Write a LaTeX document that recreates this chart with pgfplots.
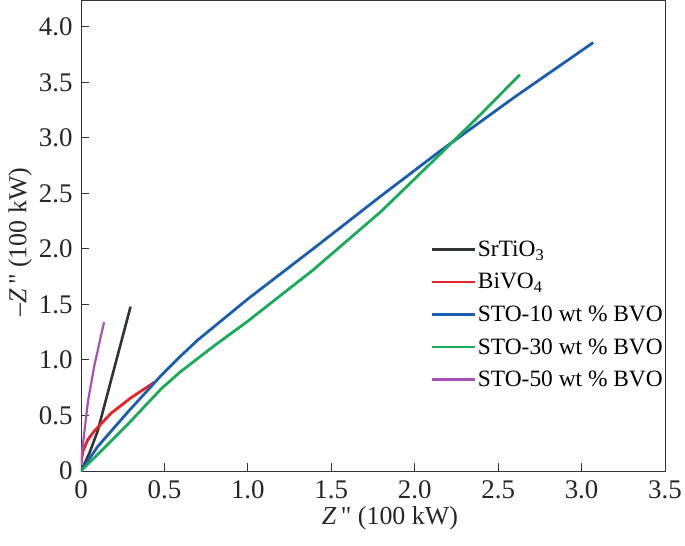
\documentclass[border=0pt]{standalone}
\usepackage{fontspec}
\setmainfont{Liberation Serif}
\newfontfamily\qfont{Liberation Serif}[Ligatures=TeXOff]
\usepackage{pgfplots}
\pgfplotsset{compat=1.18}
\definecolor{cblack}{HTML}{2E3532}
\definecolor{cred}{HTML}{E8212B}
\definecolor{cblue}{HTML}{1D5DAF}
\definecolor{cgreen}{HTML}{1BAA57}
\definecolor{cpurple}{HTML}{A552B5}
\newcommand{\dq}{{\qfont\symbol{34}}}
\begin{document}
\begin{tikzpicture}
\useasboundingbox (-81bp,-75bp) rectangle (604bp,471bp);
\begin{axis}[
  at={(0,0)}, anchor=south west,
  scale only axis, width=584bp, height=470bp,
  xmin=0, xmax=3.5, ymin=0, ymax=4.234,
  xtick={0,0.5,1,1.5,2,2.5,3,3.5},
  xticklabels={0,0.5,1.0,1.5,2.0,2.5,3.0,3.5},
  ytick={0,0.5,1,1.5,2,2.5,3,3.5,4},
  yticklabels={0,0.5,1.0,1.5,2.0,2.5,3.0,3.5,4.0},
  xtick pos=left, ytick pos=left, tick align=inside,
  major tick length=8bp,
  tick style={line width=1pt, black!80},
  axis line style={line width=1pt, black!80},
  ticklabel style={font=\fontsize{27}{30}\selectfont, text=black!85},
  xticklabel style={yshift=-6bp},
  yticklabel style={xshift=-5bp},
  label style={font=\fontsize{26}{29}\selectfont, text=black!85},
  xlabel={\textit{Z}\,\dq\ (100 kW)},
  ylabel={\textendash\textit{Z}\,\dq\ (100 kW)},
  xlabel style={at={(axis description cs:0.529,-0.100)}, anchor=center},
  ylabel style={at={(axis description cs:-0.104,0.487)}, anchor=center},
  legend style={draw=none, fill=none, at={(0.598,0.494)}, anchor=north west,
    font=\fontsize{23.5}{26}\selectfont, row sep=11.5bp, inner sep=0pt},
  legend cell align=left,
  legend image code/.code={\draw[#1, line width=2.5pt] (0bp,0bp) -- (43bp,0bp);},
]
\addplot[cblack, line width=2.6pt] coordinates {(0,0) (0.05,0.16) (0.10,0.36) (0.2,0.93) (0.297,1.48)};
\addlegendentry{SrTiO\textsubscript{3}}
\addplot[cred, line width=2.8pt] coordinates {(0,0.07) (0.012,0.18) (0.04,0.28) (0.08,0.36) (0.18,0.52) (0.30,0.66) (0.44,0.80)};
\addlegendentry{BiVO\textsubscript{4}}
\addplot[cblue, line width=2.8pt] coordinates {(0,0) (0.1,0.22) (0.28,0.53) (0.48,0.86) (0.593,1.03) (0.7,1.18) (1.0,1.55) (1.39,2.0) (1.8,2.48) (2.15,2.88) (2.6,3.37) (3.07,3.86)};
\addlegendentry{STO-10 wt \% BVO}
\addplot[cgreen, line width=2.8pt] coordinates {(0,0) (0.28,0.42) (0.48,0.74) (0.593,0.89) (0.8,1.13) (1.0,1.35) (1.39,1.81) (1.8,2.34) (2.17,2.88) (2.4,3.22) (2.63,3.57)};
\addlegendentry{STO-30 wt \% BVO}
\addplot[cpurple, line width=2.2pt] coordinates {(0,0.05) (0.005,0.15) (0.02,0.35) (0.042,0.63) (0.08,0.95) (0.138,1.34)};
\addlegendentry{STO-50 wt \% BVO}
\end{axis}
\end{tikzpicture}
\end{document}
